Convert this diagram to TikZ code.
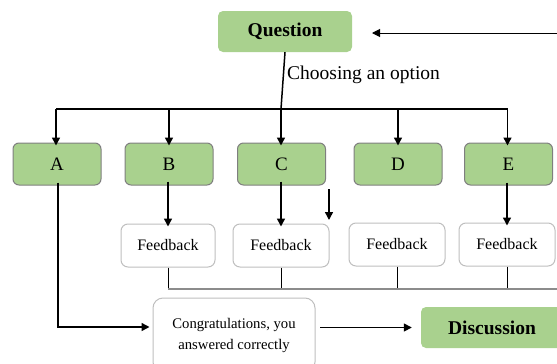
\documentclass[tikz,border=0pt]{standalone}
\usepackage{fontspec}
\setmainfont{Liberation Serif}
\usetikzlibrary{arrows.meta}
\definecolor{gfill}{HTML}{A9D18E}
\definecolor{gborder}{HTML}{7F7F7F}
\definecolor{fborder}{HTML}{BFBFBF}
\definecolor{barcol}{HTML}{8C8C8C}
\begin{document}
\begin{tikzpicture}[x=1pt,y=-1pt,
  greenbox/.style={draw=gborder, line width=1pt, fill=gfill, rounded corners=6pt,
    minimum width=88pt, minimum height=42pt, inner sep=0pt,
    font=\fontsize{19}{22}\selectfont},
  topbox/.style={fill=gfill, rounded corners=5pt, inner sep=0pt,
    font=\fontsize{19.5}{22}\selectfont\bfseries},
  fbbox/.style={draw=fborder, line width=1pt, fill=white, rounded corners=7pt,
    minimum width=95pt, minimum height=43pt, inner sep=0pt,
    font=\fontsize{16}{18}\selectfont},
  arr/.style={line width=1.5pt, -{Triangle[length=8pt,width=8pt]}},
  thinarr/.style={line width=1pt, -{Triangle[length=8pt,width=8pt]}},
  ln/.style={line width=1.5pt},
  lbl/.style={font=\fontsize{19.5}{22}\selectfont, inner sep=0pt}]
\useasboundingbox (0,0) rectangle (557,364);

% top
\node[topbox, minimum width=134pt, minimum height=41pt] (q) at (285,31.5) {Question};
\coordinate (qin) at (557,33);
\coordinate (qtip) at (372,33);
\draw[thinarr] (qin) -- (qtip);

% options
\node[greenbox] (a) at (57,164) {A};
\node[greenbox] (b) at (169,164) {B};
\node[greenbox] (c) at (281.5,164) {C};
\node[greenbox] (d) at (398,164) {D};
\node[greenbox] (e) at (508.5,164) {E};

% distribution bar
\coordinate (bar) at (281,109);
\coordinate (barL) at (56,109);
\coordinate (barR) at (507.5,109);
\draw[ln] (q.south) -- (bar);
\node[lbl, anchor=west] (choose) at (287,75) {Choosing an option};
\draw[ln] (barL) -- (barR);
\draw[arr] (barL) -- ([yshift=-3pt]a.north -| barL);
\draw[arr] (b.north |- bar) -- ([yshift=-3pt]b.north);
\draw[arr] (bar) -- ([yshift=-3pt]c.north -| bar);
\draw[arr] (d.north |- bar) -- ([yshift=-3pt]d.north);
\draw[arr] (barR) -- ([yshift=-3pt]e.north -| barR);

% feedback boxes
\node[fbbox, minimum width=94pt] (fb) at (168,245.5) {Feedback};
\node[fbbox, minimum width=96pt] (fc) at (281,245.5) {Feedback};
\node[fbbox, minimum width=96pt] (fd) at (397,244.5) {Feedback};
\node[fbbox, minimum width=96pt] (fe) at (507,244.5) {Feedback};

\coordinate (c2top) at (329,189);
\coordinate (c2tip) at (329,220);
\draw[arr] ([yshift=4pt]b.south -| fb.north) -- ([yshift=-3pt]fb.north);
\draw[arr] ([yshift=4pt]c.south -| fc.north) -- ([yshift=-3pt]fc.north);
\draw[arr] (c2top) -- (c2tip);
\draw[arr] ([yshift=3pt]e.south -| fe.north) -- ([yshift=-3pt]fe.north);

% collecting line
\coordinate (cbL) at (168,289);
\coordinate (cbR) at (557,289);
\draw[line width=1pt] (fb.south) -- (fb.south |- cbL);
\draw[line width=1pt] (fc.south) -- (fc.south |- cbL);
\draw[line width=1pt] (fd.south) -- (fd.south |- cbL);
\draw[line width=1pt] (fe.south) -- (fe.south |- cbL);
\draw[line width=1.2pt, barcol] (cbL) -- (cbR);

% bottom row
\node[fbbox, minimum width=162pt, minimum height=74pt, rounded corners=10pt,
  font=\fontsize{14.7}{21}\selectfont, align=center] (cong) at (234,335)
  {Congratulations, you\\answered correctly};
\node[topbox, minimum width=142pt, minimum height=41pt] (disc) at (492,327.5) {Discussion};

\coordinate (abend) at (58,327);
\draw[arr] ([xshift=1pt,yshift=3pt]a.south) -- (abend) -- ([xshift=-3pt]abend -| cong.west);
\coordinate (cstart) at (320,327.5);
\draw[arr] (cstart) -- ([xshift=-9pt]disc.west);
\end{tikzpicture}
\end{document}
